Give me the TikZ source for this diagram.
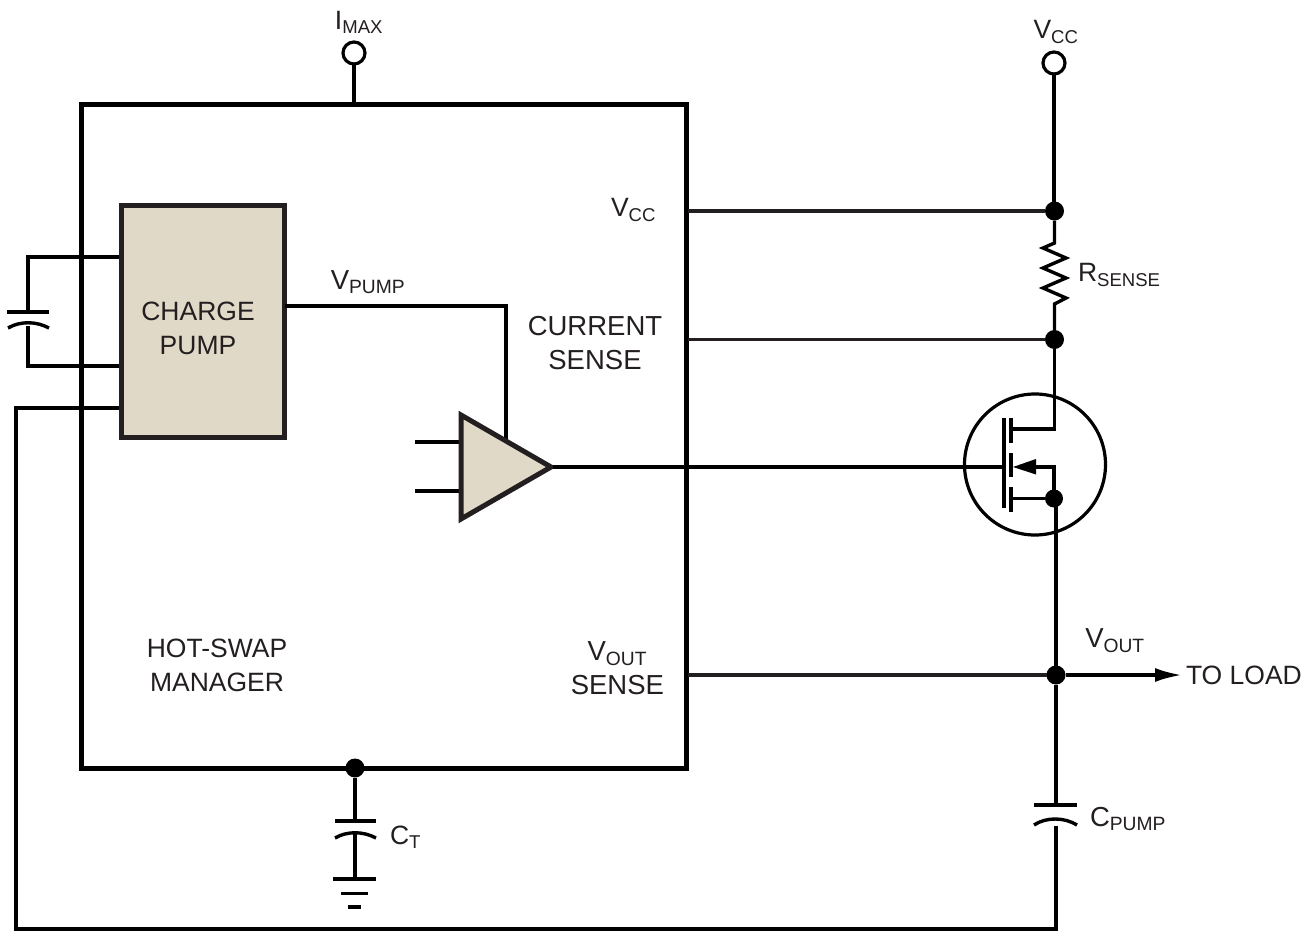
\documentclass[tikz,border=0pt]{standalone}
\usepackage{fontspec}
\setmainfont{Liberation Sans}
\usetikzlibrary{arrows.meta}
\definecolor{tan}{HTML}{E0D9C8}
\definecolor{ink}{HTML}{231F20}
\tikzset{
  x=1pt,y=-1pt,
  every node/.style={outer sep=0pt},
  wire/.style={line width=3.4pt,draw=black},
  thinwire/.style={line width=3.2pt,draw=ink},
  heavy/.style={line width=5pt,draw=ink},
  dot/.style={circle,fill=black,inner sep=0pt,minimum size=19pt},
  term/.style={circle,draw=black,line width=3.2pt,fill=white,inner sep=0pt,minimum size=22pt},
  txt/.style={font=\fontsize{27.5}{34}\selectfont,text=ink,inner sep=0pt,align=center},
  txtn/.style={font=\fontsize{26.5}{34}\selectfont,text=ink,inner sep=0pt,align=center},
  gate/.style={line width=4pt,draw=black},
}
\begin{document}
\begin{tikzpicture}
\useasboundingbox (0,0) rectangle (1314,931);
\fill[white] (0,0) rectangle (1314,931);

% coordinates
\coordinate (ccin1) at (121,257);
\coordinate (ccin2) at (121,366);
\coordinate (fbin) at (121,408);
\coordinate (capT) at (28,312);
\coordinate (capB) at (28,326);
\coordinate (vccL) at (688,211);
\coordinate (csL) at (688,339.5);
\coordinate (voL) at (688,675);
\coordinate (load) at (1182,675);

% outer wires behind box
\draw[wire,line cap=butt] (fbin) -- (16,408) -- (16,929) -- (1056,929) -- (1056,826);
\draw[wire] (ccin1) -- (28,257) -- (capT);
\draw[wire] (ccin2) -- (28,366) -- (capB);

% manager box
\node[draw=black,line width=5pt,minimum width=605pt,minimum height=663pt,inner sep=0pt,anchor=north west] (mgr) at (81,105) {};
\node[txtn,anchor=center] (hsm) at (217,665) {HOT-SWAP\\MANAGER};

% charge pump
\node[draw=ink,fill=tan,line width=5pt,minimum width=163pt,minimum height=231.5pt,inner sep=0pt,anchor=north west] (cp) at (121.5,205.5) {};
\node[txtn] (cptx) at (198,328.5) {CHARGE\\PUMP};

% external cap
\draw[wire] (7,312) -- (49,312);
\draw[wire] (8,328) .. controls (20,321) and (36,321) .. (49,328);

% Imax
\node[term] (imax) at (354,53) {};
\draw[wire] (imax) -- (354,105);
\node[txtn,anchor=center] (imaxl) at (359,22) {I\textsubscript{MAX}};

% Vcc terminal
\node[term] (vcc) at (1054,63) {};
\node[txtn] (vccl) at (1056,32) {V\textsubscript{CC}};
\node[dot] (d1) at (1054.5,211) {};
\node[dot] (d2) at (1054.5,339.5) {};
\node[dot] (d3) at (1056,675) {};
\node[dot] (d4) at (355,768) {};
\draw[wire] (vcc) -- (vcc |- d1);
\draw[thinwire] (vccL) -- (d1);
\draw[thinwire] (csL) -- (d2);
\draw[wire,line join=miter] (d1) -- (1054.5,243) -- (1043,248) -- (1066,258) -- (1043,268) -- (1066,278) -- (1043,288) -- (1066,298) -- (1054.5,304) -- (d2);
\node[txtn,anchor=west] (rs) at (1078,275) {R\textsubscript{SENSE}};

% inside labels
\node[txtn,anchor=east] (vccin) at (656,210) {V\textsubscript{CC}};
\node[txt] (cs) at (595,343) {CURRENT\\SENSE};
\node[txt] (vp) at (368,282) {V\textsubscript{PUMP}};
\node[txt,anchor=east] (vo) at (664,668) {V\textsubscript{OUT}\\SENSE};

% amp
\draw[wire] (285,306) -- (506,306) -- (506,445);
\draw[wire] (415,442) -- (461,442);
\draw[wire] (415,491) -- (461,491);
\draw[heavy,fill=tan,line join=miter] (461,415) -- (551,467) -- (461,519) -- cycle;
\coordinate (ampo) at (553,467);

% MOSFET
\node[circle,draw=black,line width=3.2pt,minimum size=141pt,inner sep=0pt] (q) at (1035,464.5) {};
\coordinate (g) at (1003,467);
\draw[wire] (ampo) -- (g);
\draw[gate] (1003.5,418) -- (1003.5,508);
\draw[gate] (1010.5,418) -- (1010.5,443);
\draw[gate] (1010.5,453) -- (1010.5,477);
\draw[gate] (1010.5,487) -- (1010.5,512);
\node[dot,minimum size=18pt] (sd) at (1054,498.5) {};
\draw[wire,line join=miter] (d2) -- (1054.5,429) -- (1012,429);
\draw[wire] (sd) -- (1012,498.5);
\draw[wire,line join=miter] (sd) -- (1054,467) -- (1030,467);
\draw[fill=black,draw=none] (1013,467) -- (1036,459) -- (1036,474.5) -- cycle;
\coordinate (sdb) at (1056,503);
\draw[wire] (sdb) -- (d3);

% Vout
\draw[thinwire] (voL) -- (d3);
\draw[wire,-{Latex[length=27pt,width=14pt]}] (d3) -- (load);
\node[txt] (vol) at (1115,641) {V\textsubscript{OUT}};
\node[txtn,anchor=west] (tl) at (1186,675) {TO LOAD};

% Cpump
\draw[wire] (d3) -- (1056,805);
\draw[wire] (1034,805) -- (1077,805);
\draw[wire] (1034,825) .. controls (1046,817) and (1064,817) .. (1077,825);
\node[txt,anchor=west] (cpl) at (1090,819) {C\textsubscript{PUMP}};

% Ct
\draw[wire] (d4) -- (355,821);
\draw[wire] (335,821) -- (376,821);
\draw[wire] (335,838) .. controls (347,831) and (363,831) .. (376,838);
\draw[wire] (355,834) -- (355,879);
\draw[wire] (333,879) -- (376,879);
\draw[wire] (341,893.5) -- (368,893.5);
\draw[wire] (348,907) -- (361,907);
\node[txtn,anchor=west] (ctl) at (390,837) {C\textsubscript{T}};
\end{tikzpicture}
\end{document}
